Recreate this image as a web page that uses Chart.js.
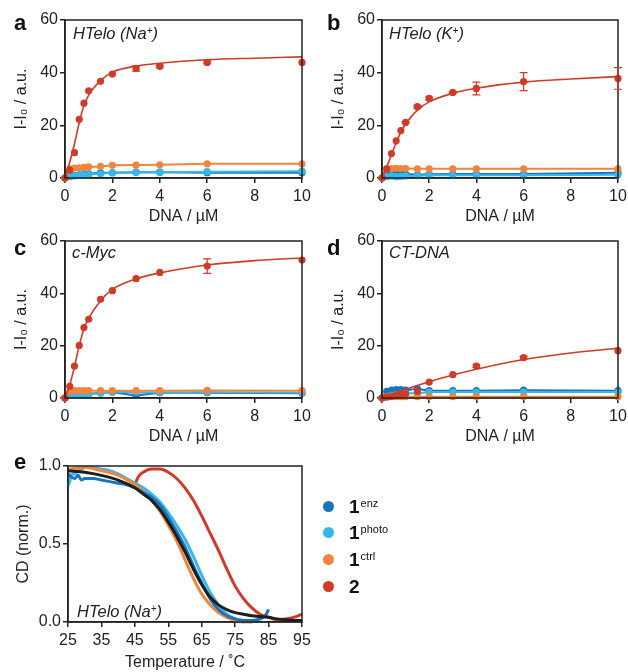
<!DOCTYPE html>
<html>
<head>
<meta charset="utf-8">
<script src="https://cdn.jsdelivr.net/npm/chart.js@4"></script>
<style>
body{margin:0;background:#fff;width:628px;height:672px;position:relative;overflow:hidden;font-family:"Liberation Sans",Arial,sans-serif;color:#222;}
canvas{position:absolute;}
.lab{position:absolute;font-weight:bold;font-size:22px;line-height:22px;color:#111;}
.ins{position:absolute;font-style:italic;font-size:16.5px;line-height:16px;color:#222;white-space:nowrap;}
.ins sup{font-size:10px;vertical-align:top;position:relative;top:-2px;}
.leg{position:absolute;left:320px;height:20px;}
.leg .dot{position:absolute;left:3px;top:4px;width:11px;height:11px;border-radius:50%;}
.leg .txt{position:absolute;left:29px;top:0;font-weight:bold;font-size:19px;line-height:20px;white-space:nowrap;color:#111;}
.leg .txt sup{font-weight:normal;font-size:11px;vertical-align:top;position:relative;top:-4px;margin-left:1px;}
</style>
</head>
<body>
<canvas id="ca" width="330" height="226" style="left:0;top:0"></canvas>
<canvas id="cb" width="340" height="226" style="left:310px;top:0"></canvas>
<canvas id="cc" width="330" height="224" style="left:0;top:222px"></canvas>
<canvas id="cd" width="340" height="224" style="left:310px;top:222px"></canvas>
<canvas id="ce" width="330" height="225" style="left:0;top:447px"></canvas>

<div class="lab" style="left:14px;top:12px">a</div>
<div class="lab" style="left:327px;top:12px">b</div>
<div class="lab" style="left:14px;top:237px">c</div>
<div class="lab" style="left:327px;top:237px">d</div>
<div class="lab" style="left:14px;top:451px">e</div>

<div class="ins" style="left:73px;top:25px">HTelo (Na<sup>+</sup>)</div>
<div class="ins" style="left:389px;top:25px">HTelo (K<sup>+</sup>)</div>
<div class="ins" style="left:72px;top:244px">c-Myc</div>
<div class="ins" style="left:389px;top:244px">CT-DNA</div>
<div class="ins" style="left:77px;top:603px">HTelo (Na<sup>+</sup>)</div>

<div class="leg" style="top:497px"><div class="dot" style="background:#1a74bb"></div><div class="txt">1<sup>enz</sup></div></div>
<div class="leg" style="top:523px"><div class="dot" style="background:#35b8ea"></div><div class="txt">1<sup>photo</sup></div></div>
<div class="leg" style="top:550px"><div class="dot" style="background:#f2843c"></div><div class="txt">1<sup>ctrl</sup></div></div>
<div class="leg" style="top:577px"><div class="dot" style="background:#d13a26"></div><div class="txt">2</div></div>

<script>
// colours
const RED = '#d13a26';
const ORANGE = '#f2843c';
const DBLUE = '#1a74bb';
const LBLUE = '#35b8ea';
const BLACK = '#1e1e1e';

// DNA concentrations (uM) used in panels a-d
const conc = [0, 0.2, 0.4, 0.6, 0.8, 1, 1.5, 2, 3, 4, 6, 10];
const fitX = [0, 0.2, 0.4, 0.6, 0.8, 1, 1.5, 2, 3, 4, 6, 8, 10];

// panel a - HTelo (Na+)
const aRed = [0, 3, 9.6, 22.3, 28.4, 33.1, 36.7, 39.5, 41.6, 42.4, 43.9, 43.9];
const aRedErr = [0, 0, 0, 0, 0, 0, 0, 0, 1, 0.5, 0.5, 0];
const aRedFit = [0, 6, 13, 21, 27.5, 31.5, 37, 40.2, 42.5, 43.6, 44.9, 45.5, 46];
const aOrange = [0, 3.5, 3.8, 3.9, 4.0, 4.2, 4.4, 4.8, 4.9, 5.0, 5.4, 5.4];
const aLBlue = [0, 0.5, 0.8, 1.0, 1.2, 1.3, 1.6, 2.0, 2.1, 2.2, 2.4, 2.6];
const aDBlue = [0, 0.8, 1.0, 1.2, 1.4, 1.6, 2.0, 2.0, 2.2, 2.2, 2.0, 2.0];

// panel b - HTelo (K+)
const bRed = [0, 3.5, 9.3, 14.1, 18, 21.1, 27.1, 30.2, 32.5, 34, 36.6, 37.8];
const bRedErr = [0, 0, 0, 0, 0, 0.3, 0.5, 0.5, 0.3, 2.4, 3.4, 4.1];
const bRedFit = [0, 4.2, 8.8, 13.4, 17.4, 20.5, 25.8, 28.9, 32.2, 34.1, 36.4, 37.6, 38.5];
const bOrange = [0, 3.5, 3.6, 3.7, 3.6, 3.6, 3.5, 3.5, 3.5, 3.5, 3.5, 3.5];
const bLBlue = [0, 0.5, 0.8, 0.5, 0.6, 0.8, 0.9, 1.0, 1.0, 1.0, 1.0, 1.2];
const bDBlue = [0, 1.8, 1.7, 1.5, 1.6, 1.5, 1.2, 1.4, 1.5, 1.5, 1.5, 2.0];

// panel c - c-Myc
const cRed = [0, 4.5, 12.2, 20.1, 26.9, 30.1, 37.7, 41, 45.6, 48, 50.4, 52.7];
const cRedErr = [0, 0, 0, 0, 0, 0, 0, 0, 0, 0, 2.8, 0];
const cRedFit = [0, 5, 12, 20, 26.5, 30.5, 37.2, 41.5, 45.5, 47.8, 50.8, 52.5, 53.5];
const cOrange = [0, 2.5, 2.8, 2.8, 2.8, 2.8, 2.8, 2.8, 2.8, 2.8, 2.9, 2.8];
const cLBlue = [0, 1.2, 1.3, 1.5, 1.5, 1.5, 1.8, 2.3, 2.2, 2.0, 2.2, 2.0];
const cDBlue = [0, 1.5, 1.8, 1.8, 1.8, 1.5, 2.0, 2.2, 1.0, 2.0, 2.0, 1.8];

// panel d - CT-DNA
const dRed = [0, 0.3, 0.6, 1.0, 1.3, 1.6, 2.5, 6.1, 8.9, 12.2, 15.4, 18.1];
const dRedErr = [0, 0, 0, 0, 0, 0, 0, 0, 0, 0.5, 0.5, 0];
const dFitX = [0, 1, 2, 3, 4, 6, 8, 10];
const dRedFit = [0, 3.3, 6.2, 8.8, 11, 14.7, 17.2, 19];
const dOrange = [0, 0.5, 0.5, 0.5, 0.5, 0.5, 0.5, 0.5, 0.5, 0.5, 0.5, 0.5];
const dLBlue = [0, 0.5, 1.0, 1.2, 1.5, 1.8, 1.8, 2.3, 2.3, 2.3, 2.3, 2.3];
const dDBlue = [0, 2.5, 3.0, 3.2, 3.2, 3.0, 3.5, 2.8, 2.8, 2.8, 3.0, 2.8];

// panel e - CD melting, HTelo (Na+)
const eEnzT = [25, 26, 27, 28, 29, 30, 32.5, 35, 37.5, 40, 42.5, 45, 47.5, 50, 52.5, 55, 57.5, 60, 62.5, 65, 67.5, 70, 72.5, 75, 77.5, 80, 82.5, 84, 85];
const eEnz = [0.95, 0.93, 0.92, 0.94, 0.91, 0.92, 0.92, 0.91, 0.90, 0.89, 0.88, 0.86, 0.83, 0.80, 0.75, 0.67, 0.58, 0.48, 0.36, 0.25, 0.15, 0.08, 0.04, 0.02, 0.01, 0.01, 0.02, 0.04, 0.08];
const ePhotoT = [25, 25.5, 26, 27, 28, 29, 30, 32.5, 35, 37.5, 40, 42.5, 45, 47.5, 50, 52.5, 55, 57.5, 60, 62.5, 65, 67.5, 70, 72.5, 75, 77.5, 80];
const ePhoto = [0.87, 0.90, 0.94, 0.95, 0.97, 0.98, 0.99, 0.99, 0.98, 0.97, 0.95, 0.92, 0.89, 0.86, 0.82, 0.77, 0.70, 0.62, 0.53, 0.42, 0.30, 0.19, 0.11, 0.05, 0.02, 0.01, 0.0];
const eCtrlT = [25, 30, 35, 40, 45, 47.5, 50, 52.5, 55, 57.5, 60, 62.5, 65, 67.5, 70, 72.5, 75, 77.5, 80];
const eCtrl = [0.98, 0.99, 0.97, 0.94, 0.88, 0.84, 0.78, 0.71, 0.62, 0.52, 0.40, 0.28, 0.18, 0.11, 0.06, 0.03, 0.01, 0.0, 0.0];
const eTwoT = [45, 46, 47.5, 50, 52.5, 55, 57.5, 60, 62.5, 65, 67.5, 70, 72.5, 75, 77.5, 80, 82.5, 85, 87.5, 90, 92.5, 95];
const eTwo = [0.88, 0.93, 0.96, 0.98, 0.98, 0.96, 0.92, 0.86, 0.78, 0.68, 0.57, 0.46, 0.34, 0.23, 0.15, 0.09, 0.05, 0.03, 0.015, 0.02, 0.03, 0.05];
const eDnaT = [25, 30, 35, 40, 45, 47.5, 50, 52.5, 55, 57.5, 60, 62.5, 65, 67.5, 70, 72.5, 75, 77.5, 80, 82.5, 85, 87.5, 90, 92.5, 95];
const eDna = [0.97, 0.96, 0.94, 0.91, 0.86, 0.82, 0.78, 0.72, 0.64, 0.55, 0.45, 0.34, 0.24, 0.16, 0.11, 0.08, 0.06, 0.05, 0.04, 0.035, 0.03, 0.02, 0.015, 0.01, 0.01];

Chart.defaults.font.family = '"Liberation Sans", Arial, sans-serif';
Chart.defaults.font.size = 16;
Chart.defaults.color = '#222';

function pts(xs, ys){
    return xs.map(function (x, i){ return {x: x, y: ys[i]}; });
}

// draws the closed frame around the plot area
const boxPlugin = {
    id: 'box',
    afterDatasetsDraw: function (chart){
        const a = chart.chartArea;
        const ctx = chart.ctx;
        ctx.save();
        ctx.strokeStyle = '#222';
        ctx.lineWidth = 1.5;
        ctx.strokeRect(a.left, a.top, a.right - a.left, a.bottom - a.top);
        ctx.restore();
    }
};

// error bars for datasets that carry an errs array
const errPlugin = {
    id: 'errs',
    afterDatasetsDraw: function (chart){
        const ctx = chart.ctx;
        chart.data.datasets.forEach(function (ds){
            if(!ds.errs) return;
            ctx.save();
            ctx.strokeStyle = ds.borderColor;
            ctx.lineWidth = 1.2;
            ds.data.forEach(function (p, i){
                const e = ds.errs[i];
                if(!e) return;
                const x = chart.scales.x.getPixelForValue(p.x);
                const y1 = chart.scales.y.getPixelForValue(p.y + e);
                const y2 = chart.scales.y.getPixelForValue(p.y - e);
                ctx.beginPath();
                ctx.moveTo(x, y1); ctx.lineTo(x, y2);
                ctx.moveTo(x - 4, y1); ctx.lineTo(x + 4, y1);
                ctx.moveTo(x - 4, y2); ctx.lineTo(x + 4, y2);
                ctx.stroke();
            });
            ctx.restore();
        });
    }
};

function axis(min, max, step, fit, title, titlePad, tickPad, fmt){
    return {
        type: 'linear', min: min, max: max,
        ticks: {stepSize: step, padding: tickPad, color: '#222', font: {size: 16},
                callback: fmt || function (v){ return v; }},
        grid: {display: true, drawOnChartArea: false, drawTicks: true, tickLength: 5, color: '#222', lineWidth: 1.5},
        border: {display: true, color: '#222', width: 1.5},
        title: {display: true, text: title, color: '#222', font: {size: 16}, padding: {top: titlePad, bottom: 0}},
        afterFit: fit
    };
}

function makePanel(id, o){
    new Chart(document.getElementById(id), {
        type: 'scatter',
        data: {datasets: o.datasets},
        options: {
            responsive: false,
            animation: false,
            devicePixelRatio: 1,
            layout: {padding: {top: o.top, right: o.right, left: 0, bottom: 0}},
            plugins: {legend: {display: false}, tooltip: {enabled: false}},
            scales: {
                x: axis(o.xmin, o.xmax, o.xstep, function (s){ s.height = o.xh; }, o.xtitle, o.xtp, 4),
                y: axis(o.ymin, o.ymax, o.ystep, function (s){ s.width = o.yw; }, o.ytitle, o.ytp, 2, o.yfmt)
            }
        },
        plugins: [boxPlugin, errPlugin]
    });
}

function pointSet(xs, ys, color, line, errs){
    return {
        data: pts(xs, ys), showLine: line, borderColor: color, backgroundColor: color,
        borderWidth: 2, pointRadius: 3.6, pointBorderWidth: 0, clip: false, errs: errs
    };
}
function fitSet(xs, ys, color){
    return {
        data: pts(xs, ys), showLine: true, borderColor: color, backgroundColor: color,
        borderWidth: 1.6, pointRadius: 0, cubicInterpolationMode: 'monotone', clip: false
    };
}
function meltSet(xs, ys, color){
    return {
        data: pts(xs, ys), showLine: true, borderColor: color, backgroundColor: color,
        borderWidth: 3, pointRadius: 0, cubicInterpolationMode: 'monotone', clip: false
    };
}

function bindPanel(id, red, redErr, rfx, redFit, orange, lblue, dblue, yw, right, top, ytp){
    makePanel(id, {
        xmin: 0, xmax: 10, xstep: 2, ymin: 0, ymax: 60, ystep: 20,
        yw: yw, xh: 48, top: top, right: right,
        xtitle: 'DNA / µM', ytitle: 'I-I₀ / a.u.', xtp: 0.5, ytp: ytp,
        datasets: [
            pointSet(conc, red, RED, false, redErr),
            fitSet(rfx, redFit, RED),
            pointSet(conc, orange, ORANGE, true),
            pointSet(conc, lblue, LBLUE, true),
            pointSet(conc, dblue, DBLUE, true)
        ]
    });
}

// canvas widths leave room on the right so the plot edge lands where the figure has it
bindPanel('ca', aRed, aRedErr, fitX, aRedFit, aOrange, aLBlue, aDBlue, 65, 28, 20, 12);
bindPanel('cb', bRed, bRedErr, fitX, bRedFit, bOrange, bLBlue, bDBlue, 72, 32, 20, 19);
bindPanel('cc', cRed, cRedErr, fitX, cRedFit, cOrange, cLBlue, cDBlue, 65, 28, 19, 12);
bindPanel('cd', dRed, dRedErr, dFitX, dRedFit, dOrange, dLBlue, dDBlue, 72, 32, 19, 19);

makePanel('ce', {
    xmin: 25, xmax: 95, xstep: 10, ymin: 0, ymax: 1, ystep: 0.5,
    yw: 68, xh: 50, top: 19, right: 28,
    xtitle: 'Temperature / ˚C', ytitle: 'CD (norm.)', xtp: 0.5, ytp: 14,
    yfmt: function (v){ return v.toFixed(1); },
    datasets: [
        meltSet(eDnaT, eDna, BLACK),
        meltSet(eEnzT, eEnz, DBLUE),
        meltSet(eCtrlT, eCtrl, ORANGE),
        meltSet(ePhotoT, ePhoto, LBLUE),
        meltSet(eTwoT, eTwo, RED)
    ]
});
</script>
</body>
</html>
